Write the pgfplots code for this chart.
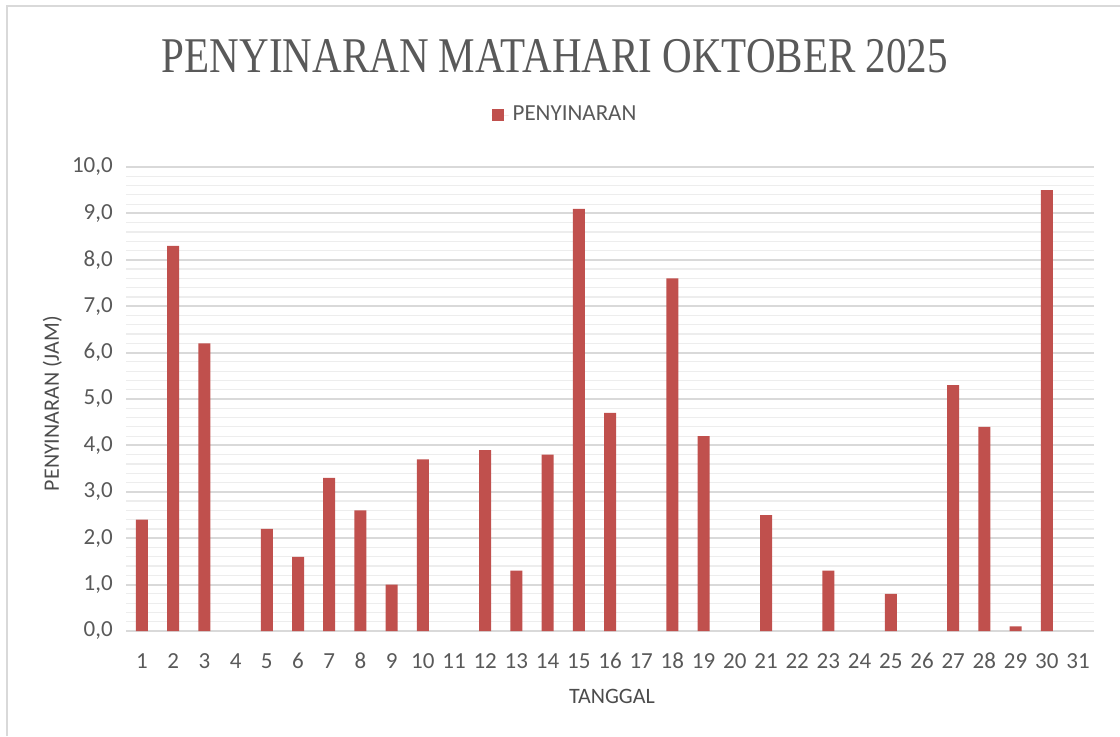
\documentclass[border=0pt]{standalone}
\usepackage{pgfplots}
\pgfplotsset{compat=1.18}
\usepackage{fontspec}
\usepackage{graphicx}
\setmainfont{Carlito}
\newfontfamily\titlefont{Liberation Serif}
\definecolor{barred}{HTML}{C0504D}
\definecolor{txtgray}{HTML}{595959}
\definecolor{majgrid}{HTML}{D9D9D9}
\definecolor{mingrid}{HTML}{EDEDED}
\begin{document}
\begin{tikzpicture}
\path[use as bounding box] (0,0) rectangle (560pt,368pt);
\draw[majgrid, line width=1pt] (3.5pt,0) -- (3.5pt,365pt) -- (560pt,365pt);
\node[anchor=base, text=txtgray, inner sep=0pt] at (277.5pt,331.5pt)
  {\resizebox{393pt}{\height}{\titlefont\fontsize{25}{30}\selectfont PENYINARAN MATAHARI OKTOBER 2025}};
\begin{axis}[
  at={(63.2pt,52.5pt)}, anchor=south west,
  scale only axis, width=483.6pt, height=232pt,
  xmin=0.5, xmax=31.5, ymin=0, ymax=10,
  ybar, bar width=6pt,
  xtick={1,...,31}, ytick={0,1,...,10},
  minor y tick num=4,
  ymajorgrids, yminorgrids,
  major grid style={majgrid, line width=1pt},
  minor grid style={mingrid, line width=0.6pt},
  major tick length=0pt, minor tick length=0pt,
  axis x line*=bottom, axis y line*=left,
  x axis line style={majgrid, line width=1pt, -},
  y axis line style={draw=none},
  tick label style={font=\fontsize{11.5}{13}\selectfont, text=txtgray},
  /pgf/number format/assume math mode=true,
  y tick label style={/pgf/number format/fixed, /pgf/number format/fixed zerofill,
    /pgf/number format/precision=1, /pgf/number format/use comma},
  every y tick label/.append style={anchor=east, xshift=-3.3pt},
  every x tick label/.append style={anchor=base, yshift=-18.5pt},
  xlabel={TANGGAL}, ylabel={PENYINARAN (JAM)},
  label style={font=\fontsize{11}{13}\selectfont, text=txtgray!85!black},
  xlabel style={at={(rel axis cs:0.502,0)}, anchor=center, yshift=-32.5pt},
  ylabel style={at={(rel axis cs:0,0.49)}, anchor=center, yshift=37pt},
  legend style={at={(rel axis cs:0.4545,1)}, anchor=center, yshift=26pt,
    draw=none, fill=none, font=\fontsize{11.5}{13}\selectfont, text=txtgray},
  legend image code/.code={\fill[barred] (0pt,-3.2pt) rectangle (6pt,3.2pt); \path (0pt,0pt) -- (8.5pt,0pt);},
  unbounded coords=discard,
  y filter/.expression={y==0 ? nan : y},
]
\addplot[fill=barred, draw=none] coordinates {
(1,2.4) (2,8.3) (3,6.2) (4,0) (5,2.2) (6,1.6) (7,3.3) (8,2.6) (9,1.0) (10,3.7)
(11,0) (12,3.9) (13,1.3) (14,3.8) (15,9.1) (16,4.7) (17,0) (18,7.6) (19,4.2) (20,0)
(21,2.5) (22,0) (23,1.3) (24,0) (25,0.8) (26,0) (27,5.3) (28,4.4) (29,0.1) (30,9.5) (31,0)
};
\addlegendentry{PENYINARAN}
\end{axis}
\end{tikzpicture}
\end{document}
